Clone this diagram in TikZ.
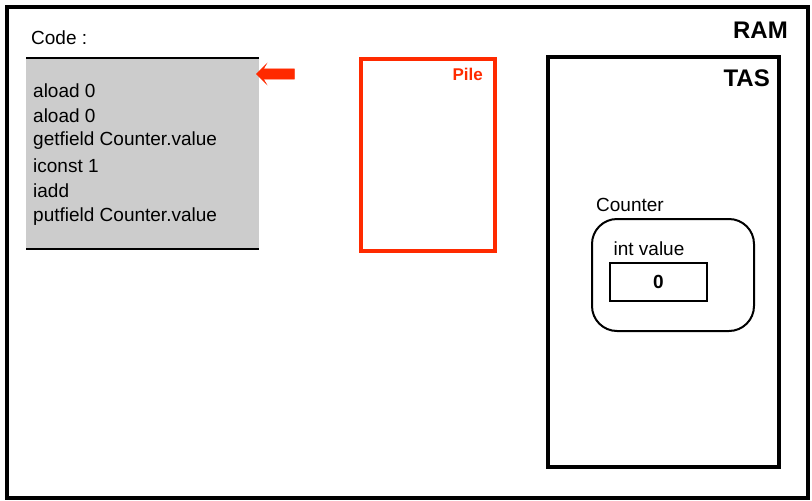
\documentclass[tikz,border=0pt]{standalone}
\usepackage{fontspec}
\setmainfont{Liberation Sans}
\usetikzlibrary{shapes.arrows}
\definecolor{pilered}{HTML}{FF2A00}
\begin{document}
\begin{tikzpicture}[x=1pt,y=-1pt,
  txt/.style={inner sep=0pt,font=\fontsize{19}{20}\selectfont},
  big/.style={inner sep=0pt,font=\fontsize{24}{25}\selectfont\bfseries},
  frame/.style={draw=black,line width=3.5pt}]
\useasboundingbox (0,0) rectangle (812,501);
\node[frame,minimum width=801pt,minimum height=491pt,anchor=north west] (ram) at (5,5) {};
\node[big,anchor=east] (ramlbl) at (788,30) {RAM};
\node[txt,anchor=west] (codelbl) at (31,38) {Code :};
\fill[gray!40] (26,58) rectangle (259,249);
\coordinate (ct1) at (26,58); \coordinate (ct2) at (259,58);
\coordinate (cb1) at (26,249); \coordinate (cb2) at (259,249);
\draw[line width=2.5pt] (ct1) -- (ct2);
\draw[line width=2.5pt] (cb1) -- (cb2);
\node[txt,anchor=west] (l1) at (33,91) {aload 0};
\node[txt,anchor=west] (l2) at (33,116) {aload 0};
\node[txt,anchor=west] (l3) at (33,141) {getfield Counter.value};
\node[txt,anchor=west] (l4) at (33,166) {iconst 1};
\node[txt,anchor=west] (l5) at (33,191) {iadd};
\node[txt,anchor=west] (l6) at (33,217) {putfield Counter.value};
\node[single arrow,shape border rotate=180,fill=pilered,draw=pilered,minimum height=38pt,minimum width=20pt,single arrow head extend=4pt,single arrow head indent=3pt,inner sep=4pt] (arr) at (278,74) {};
\node[draw=pilered,line width=3.5pt,minimum width=134pt,minimum height=192pt,anchor=north west] (pile) at (359,57) {};
\node[inner sep=0pt,font=\fontsize{17}{18}\selectfont\bfseries,text=pilered,anchor=east] (pilelbl) at (483,74) {Pile};
\node[frame,minimum width=231pt,minimum height=410pt,anchor=north west] (tas) at (546,55) {};
\node[big,anchor=east] (taslbl) at (770,78) {TAS};
\node[txt] (ctr) at (630,205) {Counter};
\node[draw,line width=2pt,rounded corners=25pt,minimum width=162pt,minimum height=112pt,anchor=north west] (obj) at (591,218) {};
\node[txt] (iv) at (649,249) {int value};
\node[draw,line width=2pt,minimum width=97pt,minimum height=38pt,anchor=north west] (val) at (609,262) {};
\node[inner sep=0pt,font=\fontsize{19}{20}\selectfont\bfseries] (zero) at (val.center) {0};
\end{tikzpicture}
\end{document}
